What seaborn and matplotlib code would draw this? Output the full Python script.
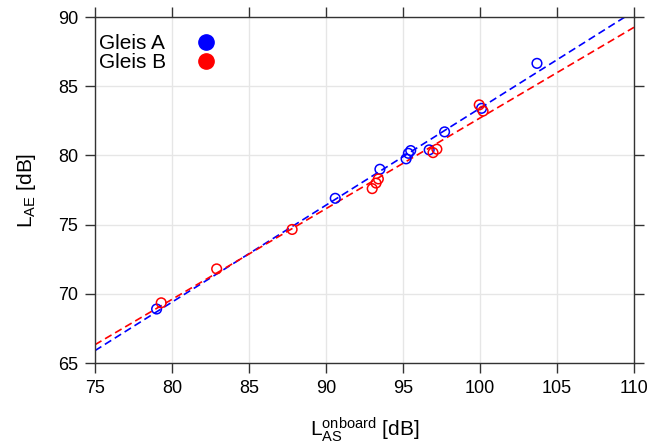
import numpy as np
import pandas as pd
import matplotlib
matplotlib.use("Agg")
import matplotlib.pyplot as plt
import seaborn as sns
from matplotlib.lines import Line2D

# ---- data ----
groups = ["Gleis A", "Gleis B"]
a_x = [79.0, 90.6, 93.5, 95.2, 95.35, 95.5, 96.7, 97.7, 100.1, 103.7]
a_y = [68.9, 76.9, 79.0, 79.75, 80.15, 80.35, 80.4, 81.7, 83.4, 86.65]
b_x = [79.3, 82.9, 87.8, 93.0, 93.25, 93.4, 96.95, 97.2, 99.95, 100.2]
b_y = [69.35, 71.8, 74.65, 77.6, 78.0, 78.3, 80.2, 80.45, 83.65, 83.2]
colors = ["#0000FF", "#FF0000"]
xticks = [75, 80, 85, 90, 95, 100, 105, 110]
yticks = [65, 70, 75, 80, 85, 90]
xlabel = r"$\mathregular{L_{AS}^{onboard}}$ [dB]"
ylabel = r"$\mathregular{L_{AE}}$ [dB]"

df = pd.DataFrame({
    "x": a_x + b_x,
    "y": a_y + b_y,
    "group": [groups[0]] * len(a_x) + [groups[1]] * len(b_x),
})

sns.set_theme(style="white")
plt.rcParams["font.family"] = ["Liberation Sans", "DejaVu Sans"]
plt.rcParams["mathtext.fontset"] = "custom"
plt.rcParams["mathtext.rm"] = "Liberation Sans"
plt.rcParams["mathtext.it"] = "Liberation Sans"
plt.rcParams["text.color"] = "black"

fig = plt.figure(figsize=(6.6, 4.45), dpi=100)
ax = fig.add_axes([95 / 660, 82 / 445, 539 / 660, 346 / 445])

ax.set_xlim(xticks[0], xticks[-1])
ax.set_ylim(yticks[0], yticks[-1])

for g, c in zip(groups, colors):
    sub = df[df["group"] == g]
    sns.regplot(data=sub, x="x", y="y", ax=ax, scatter=False, ci=None,
                truncate=False, color=c,
                line_kws=dict(ls=(0, (4.5, 2.5)), lw=1.2))
for g, c in zip(groups, colors):
    sub = df[df["group"] == g]
    sns.scatterplot(data=sub, x="x", y="y", ax=ax, color=c,
                    facecolor="none", edgecolor=c, linewidth=1.1, s=48,
                    marker="o", zorder=3)

ax.set_xlim(xticks[0], xticks[-1])
ax.set_ylim(yticks[0], yticks[-1])
ax.set_xticks(xticks)
ax.set_yticks(yticks)
ax.grid(True, color="#e6e6e6", lw=1)
ax.set_axisbelow(True)

for s in ax.spines.values():
    s.set_visible(True)
    s.set_color("#333333")
    s.set_linewidth(1.0)
ax.tick_params(direction="out", length=7, width=1.0, color="#333333",
               top=True, right=True, bottom=True, left=True,
               labeltop=False, labelright=False, labelsize=13,
               labelcolor="black")
ax.tick_params(axis="x", pad=5)
ax.tick_params(axis="y", pad=5)

ax.set_xlabel(xlabel, fontsize=15, color="black")
ax.set_ylabel(ylabel, fontsize=15, color="black")
ax.xaxis.set_label_coords(0.5, -0.15)
ax.yaxis.set_label_coords((38 - 95) / 539, 0.5)

handles = [Line2D([], [], marker="o", ls="", color=c, markersize=11) for c in colors]
leg = ax.legend(handles, groups, loc="upper left", bbox_to_anchor=(0.008, 0.95),
                markerfirst=False, frameon=False, fontsize=15, handletextpad=0.9,
                labelspacing=0.0, borderpad=0, borderaxespad=0)
for t in leg.get_texts():
    t.set_color("black")

# left-align legend labels while keeping markers in one column
fig.canvas.draw()
r = fig.canvas.get_renderer()
widths = [t.get_window_extent(r).width for t in leg.get_texts()]
try:
    for col in leg._legend_handle_box.get_children():
        col.align = "left"
        for row, w in zip(col.get_children(), widths):
            row.sep += (max(widths) - w) * 72.0 / fig.dpi
except Exception:
    pass

fig.savefig("out.png", dpi=100)
